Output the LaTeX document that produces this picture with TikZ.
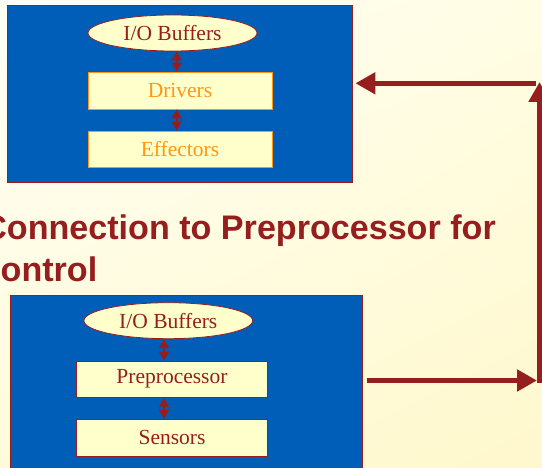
\documentclass[tikz,border=0pt]{standalone}
\usepackage{fontspec}
\setmainfont{Liberation Serif}
\newfontfamily\headfont{Liberation Sans}
\usetikzlibrary{arrows.meta,shapes.geometric,shadings}
\definecolor{deepred}{RGB}{150,30,30}
\definecolor{panelblue}{RGB}{0,94,184}
\definecolor{cream}{RGB}{255,255,204}
\definecolor{amber}{RGB}{255,150,20}
\definecolor{bgA}{RGB}{255,255,246}
\definecolor{bgB}{RGB}{255,253,228}
\definecolor{bgC}{RGB}{255,251,218}
\definecolor{bgD}{RGB}{255,248,205}

\begin{document}
\begin{tikzpicture}[x=1pt,y=-1pt,
  panel/.style={rectangle, draw=deepred, line width=0.8pt, fill=panelblue, inner sep=0pt},
  buf/.style={ellipse, draw=deepred, line width=0.8pt, fill=cream, text=deepred,
    inner sep=0pt, font=\fontsize{21.5}{24}\selectfont},
  layer/.style={rectangle, draw=deepred, line width=0.8pt, fill=cream, text=deepred,
    inner sep=0pt, font=\fontsize{21.5}{24}\selectfont},
  outlayer/.style={layer, draw=amber, text=amber},
  link/.style={draw=deepred, line width=1.6pt,
    {Triangle[length=9pt,width=10pt]}-{Triangle[length=9pt,width=10pt]}},
  flow/.style={draw=deepred, line width=5pt, -{Triangle[length=20pt,width=21pt]}},
  heading/.style={inner sep=0pt, text=deepred, font=\headfont\bfseries\fontsize{34.1}{40}\selectfont},
]
% page and background
\path[use as bounding box] (0,0) rectangle (542,468);
\clip (0,0) rectangle (542,468);
\shade[upper left=bgA, upper right=bgB, lower left=bgC, lower right=bgD]
  (0,0) rectangle (542,468);

% effector side
\node[panel, minimum width=345.4pt, minimum height=176.3pt] (tbox) at (180,93.85) {};
\node[buf, minimum width=169pt, minimum height=36pt] (tbuf) at (172.5,33) {I/O Buffers};
\node[outlayer, minimum width=184pt, minimum height=37pt] (drv) at (180,90.5) {Drivers};
\node[outlayer, minimum width=184pt, minimum height=36pt] (eff) at (180,149) {Effectors};
\coordinate (tx) at (176.7,0);
\draw[link] (tbuf.south -| tx) -- (drv.north -| tx);
\draw[link] (drv.south -| tx) -- (eff.north -| tx);

% heading
\node[heading, anchor=base east] (h1) at (496,239.5) {Connection to Preprocessor for};
\node[heading, anchor=base east] (h2) at (97.5,281.5) {Control};

% sensor side
\node[panel, minimum width=352pt, minimum height=195pt] (bbox) at (186.7,392.5) {};
\node[buf, minimum width=168.7pt, minimum height=36pt] (bbuf) at (168.3,320.7) {I/O Buffers};
\node[layer, minimum width=190.6pt, minimum height=36.3pt] (pre) at (172,379.2) {Preprocessor};
\node[layer, minimum width=190.6pt, minimum height=36.7pt] (sen) at (172,437.7) {Sensors};
\coordinate (bx) at (164,0);
\draw[link] (bbuf.south -| bx) -- (pre.north -| bx);
\draw[link] (pre.south -| bx) -- (sen.north -| bx);

% feedback loop between the two sides
\coordinate (outB) at (366.7,380.5);
\coordinate (cornerB) at (537,380.5);
\coordinate (riseB) at (539.5,383);
\coordinate (riseT) at (539.5,82);
\coordinate (topR) at (536,83.3);
\draw[flow] (outB) -- (cornerB);
\draw[flow] (riseB) -- (riseT);
\draw[flow, shorten >=2.3pt] (topR) -- (tbox.east |- topR);
\end{tikzpicture}
\end{document}
